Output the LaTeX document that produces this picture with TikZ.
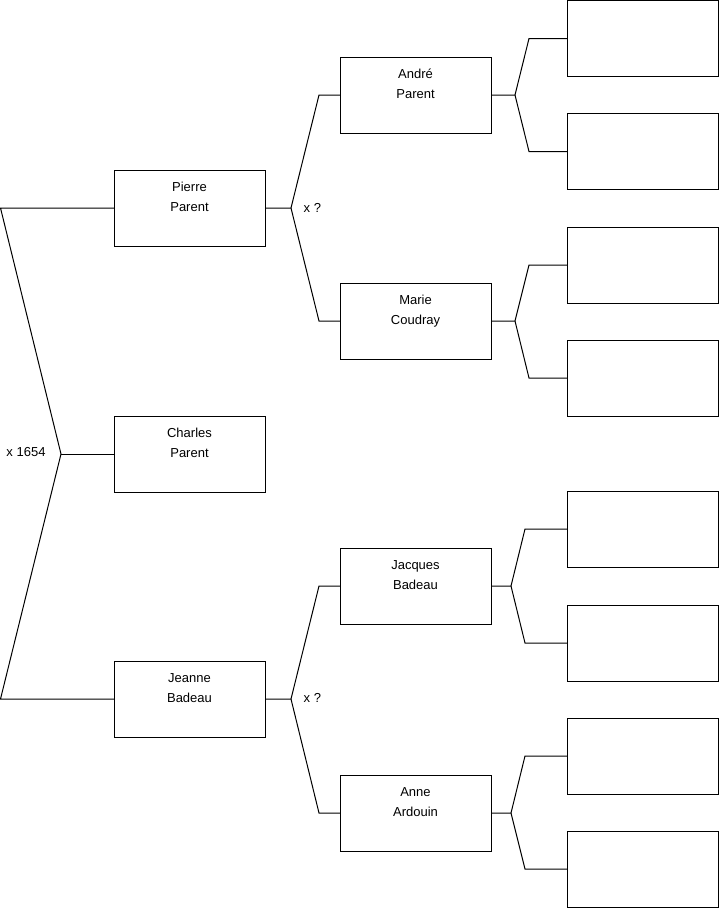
\documentclass[tikz,border=0pt]{standalone}
\usepackage{fontspec}
\setmainfont{Liberation Sans}
\begin{document}
\begin{tikzpicture}[x=1pt,y=-1pt,
  box/.style={draw=black,line width=1pt,minimum width=151pt,minimum height=76pt,inner sep=0pt,outer sep=0pt},
  lbl/.style={anchor=north,yshift=-8.7pt,inner sep=0pt,align=center,font=\fontsize{13}{20}\selectfont},
  conn/.style={draw=black,line width=1pt,line join=miter},
  note/.style={inner sep=0pt,font=\fontsize{13}{16}\selectfont}]
\useasboundingbox (0,0) rectangle (719,908);
% generation 1
\node[box,label={[lbl]north:\rule{0pt}{13pt}Pierre\\Parent}] (pierre) at (189.5,208) {};
\node[box,label={[lbl]north:\rule{0pt}{13pt}Charles\\Parent}] (charles) at (189.5,454) {};
\node[box,label={[lbl]north:\rule{0pt}{13pt}Jeanne\\Badeau}] (jeanne) at (189.5,699) {};
% generation 2
\node[box,label={[lbl]north:\rule{0pt}{13pt}André\\Parent}] (andre) at (415.5,95) {};
\node[box,label={[lbl]north:\rule{0pt}{13pt}Marie\\Coudray}] (marie) at (415.5,321) {};
\node[box,label={[lbl]north:\rule{0pt}{13pt}Jacques\\Badeau}] (jacques) at (415.5,586) {};
\node[box,label={[lbl]north:\rule{0pt}{13pt}Anne\\Ardouin}] (anne) at (415.5,813) {};
% generation 3
\node[box] (e1) at (642.5,38.5) {};
\node[box] (e2) at (642.5,151.5) {};
\node[box] (e3) at (642.5,265) {};
\node[box] (e4) at (642.5,378) {};
\node[box] (e5) at (642.5,529) {};
\node[box] (e6) at (642.5,643) {};
\node[box] (e7) at (642.5,756) {};
\node[box] (e8) at (642.5,869) {};
% left bracket
\coordinate (a1) at (0.5,208);
\coordinate (a2) at (61,454);
\coordinate (a3) at (0.5,699);
\draw[conn] (pierre.west) -- (a1) -- (a2) -- (a3) -- (jeanne.west);
\draw[conn] (a2) -- (charles.west);
\node[note] (m1) at (26,452) {x 1654};
% Pierre parents
\coordinate (b0) at (291,208);
\coordinate (b1) at (319,95);
\coordinate (b2) at (319,321);
\draw[conn] (pierre.east) -- (b0) -- (b1) -- (andre.west);
\draw[conn] (b0) -- (b2) -- (marie.west);
\node[note,anchor=west] (m2) at (303.5,208) {x ?};
% Jeanne parents
\coordinate (c0) at (291,699);
\coordinate (c1) at (319,586);
\coordinate (c2) at (319,813);
\draw[conn] (jeanne.east) -- (c0) -- (c1) -- (jacques.west);
\draw[conn] (c0) -- (c2) -- (anne.west);
\node[note,anchor=west] (m3) at (303.5,698) {x ?};
% Andre parents
\coordinate (d0) at (515,95);
\coordinate (d1) at (529,38.5);
\coordinate (d2) at (529,151.5);
\draw[conn] (andre.east) -- (d0) -- (d1) -- (e1.west);
\draw[conn] (d0) -- (d2) -- (e2.west);
% Marie parents
\coordinate (f0) at (515,321);
\coordinate (f1) at (529,265);
\coordinate (f2) at (529,378);
\draw[conn] (marie.east) -- (f0) -- (f1) -- (e3.west);
\draw[conn] (f0) -- (f2) -- (e4.west);
% Jacques parents
\coordinate (g0) at (511,586);
\coordinate (g1) at (525,529);
\coordinate (g2) at (525,643);
\draw[conn] (jacques.east) -- (g0) -- (g1) -- (e5.west);
\draw[conn] (g0) -- (g2) -- (e6.west);
% Anne parents
\coordinate (h0) at (511,813);
\coordinate (h1) at (525,756);
\coordinate (h2) at (525,869);
\draw[conn] (anne.east) -- (h0) -- (h1) -- (e7.west);
\draw[conn] (h0) -- (h2) -- (e8.west);
\end{tikzpicture}
\end{document}
